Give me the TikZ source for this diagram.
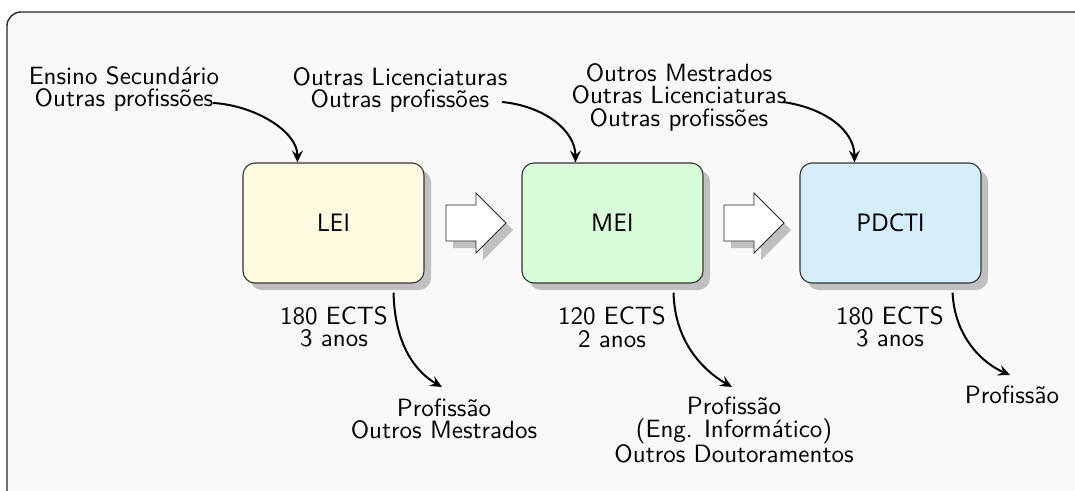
\documentclass[tikz,border=0pt]{standalone}
\usepackage{fontspec}
\newfontfamily\boxfont{Open Sans}
\newfontfamily\lblfont{lmsans10-regular.otf}
\usetikzlibrary{arrows.meta,calc,shadows}
\definecolor{bgc}{HTML}{F9F9F9}
\definecolor{shd}{HTML}{C0C0C0}
\definecolor{leic}{HTML}{FFFBE0}
\definecolor{meic}{HTML}{D9FDD9}
\definecolor{pdcc}{HTML}{D6EDFA}
\begin{document}
\begin{tikzpicture}[x=1pt,y=-1pt,
  lbl/.style={font=\lblfont\fontsize{25}{22.5}\selectfont, align=center, inner sep=0pt, text=black},
  prog/.style={draw=black!80, line width=1.1pt, rounded corners=12pt, minimum width=181pt, minimum height=120pt,
    inner sep=0pt, font=\boxfont\fontsize{24.5}{28}\selectfont,
    drop shadow={shadow xshift=7pt, shadow yshift=-7pt, fill=shd, opacity=1}},
  blk/.style={draw=black!85, fill=white, line width=0.9pt,
    drop shadow={shadow xshift=7pt, shadow yshift=-7pt, fill=shd, opacity=1}},
  conn/.style={line width=2pt, -{Stealth[length=12pt,width=11pt,inset=4.5pt]}}]
\useasboundingbox (0,0) rectangle (1075,490);
\clip (0,0) rectangle (1075,490);
\draw[fill=bgc, draw=black!85, line width=1.4pt, rounded corners=14pt] (7,12) rectangle (1095,510);

% programme boxes
\node[prog, fill=leic] (lei) at (333.5,223) {LEI};
\node[prog, fill=meic] (mei) at (612.5,223) {MEI};
\node[prog, fill=pdcc] (pdc) at (890.5,223) {PDCTI};

% block arrows
\draw[blk] (446,205) -- (476,205) -- (476,193) -- (506,223) -- (476,253) -- (476,241) -- (446,241) -- cycle;
\draw[blk] (724,205) -- (754,205) -- (754,193) -- (784,223) -- (754,253) -- (754,241) -- (724,241) -- cycle;

% input labels
\node[lbl] (in1) at (124,89) {Ensino Secundário\\Outras profissões};
\node[lbl] (in2) at (400,90) {Outras Licenciaturas\\Outras profissões};
\node[lbl] (in3) at (679,97) {Outros Mestrados\\Outras Licenciaturas\\Outras profissões};

% ECTS labels
\node[lbl] (e1) at (334,327) {180 ECTS\\3 anos};
\node[lbl] (e2) at (612,327) {120 ECTS\\2 anos};
\node[lbl] (e3) at (890,327) {180 ECTS\\3 anos};

% output labels
\node[lbl] (o1) at (444,419) {Profissão\\Outros Mestrados};
\node[lbl] (o2) at (734,430) {Profissão\\(Eng. Informático)\\Outros Doutoramentos};
\node[lbl] (o3) at (1012,395) {Profissão};

% connector end points
\coordinate (s1) at (213,103);
\coordinate (s2) at (502,102);
\coordinate (s3) at (783,102);
\coordinate (t1) at ($(lei.north west)+(55,0)$);
\coordinate (t2) at ($(mei.north west)+(54,0)$);
\coordinate (t3) at ($(pdc.north west)+(55,0)$);
\coordinate (b1) at ($(lei.south east)+(-31,9)$);
\coordinate (b2) at ($(mei.south east)+(-30,9)$);
\coordinate (b3) at ($(pdc.south east)+(-29,9)$);
\coordinate (u1) at (442,387);
\coordinate (u2) at (732,387);
\coordinate (u3) at (1010,375);

\draw[conn] (s1) .. controls +(40,2) and +(0,-32) .. (t1);
\draw[conn] (s2) .. controls +(42,4) and +(0,-32) .. (t2);
\draw[conn] (s3) .. controls +(42,6) and +(0,-32) .. (t3);

\draw[conn] (b1) .. controls +(1,50) and +(-28,-16) .. (u1);
\draw[conn] (b2) .. controls +(1,50) and +(-28,-16) .. (u2);
\draw[conn] (b3) .. controls +(2,44) and +(-28,-12) .. (u3);
\end{tikzpicture}
\end{document}
